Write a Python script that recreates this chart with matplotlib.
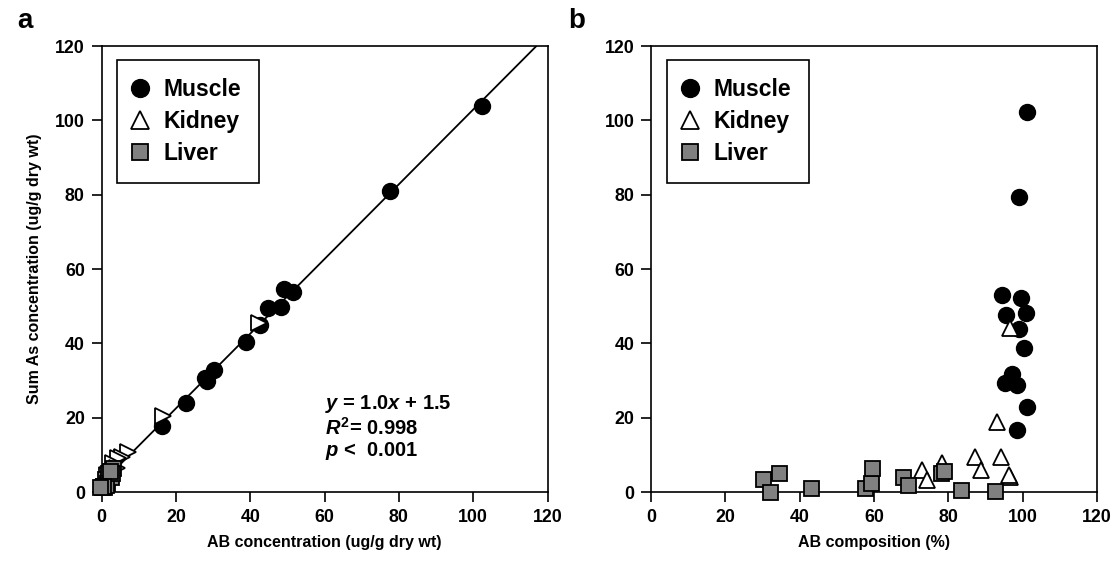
import numpy as np
import matplotlib.pyplot as plt

plt.rcParams['font.family'] = ['Liberation Sans', 'DejaVu Sans']
plt.rcParams['font.weight'] = 'bold'
plt.rcParams['mathtext.fontset'] = 'custom'
plt.rcParams['mathtext.it'] = 'Liberation Sans:italic:bold'
plt.rcParams['mathtext.rm'] = 'Liberation Sans:bold'
plt.rcParams['mathtext.bf'] = 'Liberation Sans:bold'

# panel a: AB concentration vs sum As (ug/g dry wt)
muscle_ab = [102.3, 77.6, 51.6, 49.1, 48.2, 44.8, 42.6, 38.8, 30.3, 28.5, 27.8, 22.7, 16.3]
muscle_sum = [103.8, 81.0, 53.7, 54.5, 49.7, 49.4, 44.9, 40.4, 32.8, 30.0, 30.6, 24.0, 17.8]
kidney_ab = [42.4, 16.6, 7.2, 5.5, 4.5, 3.2, 4.1, 2.5, 1.5, 2.0]
kidney_sum = [45.5, 20.5, 10.8, 9.3, 9.1, 7.7, 6.4, 5.5, 4.5, 3.5]
liver_ab = [1.0, 0.0, 1.8, 0.5, 0.7, 1.4, 3.0, 2.5, 1.3, 2.8, 2.2, 0.4, -0.3]
liver_sum = [3.4, 1.3, 5.2, 1.5, 1.4, 2.3, 6.4, 4.1, 1.9, 5.2, 5.7, 1.6, 1.3]

# panel b: AB composition (%) vs sum As
muscle_pct = [101.1, 98.9, 94.5, 99.5, 95.4, 100.8, 99.1, 100.4, 97.2, 95.2, 98.5, 101.1, 98.5]
muscle_sum_b = [102.3, 79.4, 53.0, 52.1, 47.6, 48.3, 43.8, 38.8, 31.7, 29.2, 28.8, 22.8, 16.7]
kidney_pct = [96.6, 93.0, 87.2, 94.2, 88.7, 96.6, 96.2, 72.8, 74.3, 78.2]
kidney_sum_b = [44.0, 18.9, 9.3, 9.3, 5.9, 4.0, 4.5, 5.9, 3.2, 7.7]
liver_pct = [30.2, 32.0, 34.4, 43.0, 57.6, 59.2, 59.5, 67.9, 69.0, 77.9, 78.7, 83.3, 92.5]
liver_sum_b = [3.4, 0.1, 5.2, 1.2, 1.2, 2.3, 6.4, 4.1, 1.9, 5.2, 5.7, 0.5, 0.3]

ticks = [0, 20, 40, 60, 80, 100, 120]
grey = '#808080'

fig = plt.figure(figsize=(11.18, 5.66), dpi=100)
ax1 = fig.add_axes([0.0908, 0.1307, 0.399, 0.788])
ax2 = fig.add_axes([0.5823, 0.1307, 0.399, 0.788])


def style(ax):
    ax.set_xlim(0, 120)
    ax.set_ylim(0, 120)
    ax.set_xticks(ticks)
    ax.set_yticks(ticks)
    for s in ax.spines.values():
        s.set_linewidth(1.2)
    ax.tick_params(direction='out', length=7, width=1.2, labelsize=12.8, pad=5)
    for lab in ax.get_xticklabels() + ax.get_yticklabels():
        lab.set_fontweight('bold')


# regression line
fit = np.polyfit(muscle_ab + kidney_ab + liver_ab, muscle_sum + kidney_sum + liver_sum, 1)
xl = np.array([0, 120])
ax1.plot(xl, np.polyval(fit, xl), color='black', lw=1.3, zorder=1)

ax1.plot(muscle_ab, muscle_sum, 'o', ms=11.5, color='black', ls='none', zorder=2, clip_on=False)
ax1.plot(kidney_ab, kidney_sum, '>', ms=11.5, mfc='white', mec='black', mew=1.3, ls='none', zorder=3, clip_on=False)
ax1.plot(liver_ab, liver_sum, 's', ms=10.8, mfc=grey, mec='black', mew=1.3, ls='none', zorder=4, clip_on=False)
ax1.plot([], [], 'o', ms=11.5, color='black', ls='none', label='Muscle')
ax1.plot([], [], '^', ms=11.5, mfc='white', mec='black', mew=1.3, ls='none', label='Kidney')
ax1.plot([], [], 's', ms=10.8, mfc=grey, mec='black', mew=1.3, ls='none', label='Liver')

ax2.plot(muscle_pct, muscle_sum_b, 'o', ms=11.5, color='black', ls='none', label='Muscle', zorder=2, clip_on=False)
ax2.plot(kidney_pct, kidney_sum_b, '^', ms=11.5, mfc='white', mec='black', mew=1.3, ls='none', label='Kidney', zorder=3, clip_on=False)
ax2.plot(liver_pct, liver_sum_b, 's', ms=10.8, mfc=grey, mec='black', mew=1.3, ls='none', label='Liver', zorder=4, clip_on=False)

for ax in (ax1, ax2):
    style(ax)
    leg = ax.legend(loc='upper left', bbox_to_anchor=(0.035, 0.969), borderaxespad=0,
                    fancybox=False, edgecolor='black', framealpha=1, markerscale=1.12,
                    prop={'weight': 'bold', 'size': 16.5}, handletextpad=0.8,
                    borderpad=0.78, labelspacing=0.4, handlelength=0.45)
    leg.get_frame().set_linewidth(1.2)

ax1.set_xlabel('AB concentration (ug/g dry wt)', fontsize=11.5, fontweight='bold', labelpad=7)
ax1.set_ylabel('Sum As concentration (ug/g dry wt)', fontsize=11.5, fontweight='bold', labelpad=9)
ax2.set_xlabel('AB composition (%)', fontsize=11.5, fontweight='bold', labelpad=7)

ax1.text(60, 23.7, r'$y$ = 1.0$x$ + 1.5', fontsize=14.5, fontweight='bold', va='center')
ax1.text(60, 17.4, r'$R^2$= 0.998', fontsize=14.5, fontweight='bold', va='center')
ax1.text(60, 11.0, r'$p$ <  0.001', fontsize=14.5, fontweight='bold', va='center')

fig.text(0.015, 0.95, 'a', fontsize=20, fontweight='bold')
fig.text(0.508, 0.95, 'b', fontsize=20, fontweight='bold')

fig.savefig('out.png', dpi=100)
